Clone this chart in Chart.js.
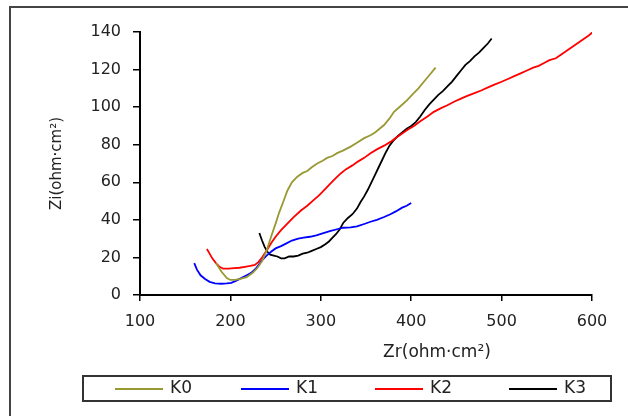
<!DOCTYPE html>
<html>
<head>
<meta charset="utf-8">
<script src="https://cdn.jsdelivr.net/npm/chart.js"></script>
<style>
    body { margin: 0; background: #fff; }
</style>
</head>
<body>
<canvas id="chartImpedansi" width="628" height="416"></canvas>
<script>
// data Nyquist (Zr, Zi) tiap sampel
var k0Zr = [184, 190, 196, 200, 205, 210, 218, 225, 230, 235, 240, 245, 250, 254, 258, 263, 268, 274, 280, 285, 290, 296, 302, 307, 313, 318, 325, 333, 340, 348, 355, 360, 365, 370, 376, 381, 388, 395, 402, 408, 414, 420, 427];
var k0Zi = [17, 12.5, 9, 8, 8, 8.5, 9.5, 12, 14.5, 18, 23.5, 31, 38, 44, 49, 55.5, 60, 63, 65, 66, 68, 70, 71.5, 73, 74, 75.5, 77, 79, 81, 83.5, 85, 86.5, 88.5, 90.5, 94, 97.5, 100.5, 103.5, 107, 110, 113.5, 117, 121];

var k1Zr = [160, 163, 167, 172, 177, 183, 190, 196, 201, 206, 212, 218, 223, 228, 232, 236, 240, 245, 250, 256, 262, 268, 275, 281, 288, 295, 302, 310, 318, 325, 333, 340, 348, 355, 362, 370, 377, 383, 390, 395, 400];
var k1Zi = [17, 13.5, 10.5, 8.5, 7, 6.2, 6, 6.2, 6.5, 7.5, 9, 10.5, 11.8, 14, 16.5, 19, 21, 23, 24.8, 26, 27.5, 29, 30, 30.5, 31, 31.8, 32.8, 34, 35, 35.8, 36, 36.5, 37.8, 39, 40, 41.5, 43, 44.5, 46.5, 47.5, 49];

var k2Zr = [174, 177, 180, 184, 188, 192, 198, 204, 210, 216, 222, 227, 231, 235, 240, 245, 250, 256, 263, 270, 278, 285, 292, 298, 304, 310, 316, 322, 328, 335, 341, 348, 355, 362, 370, 377, 384, 390, 396, 403, 410, 418, 425, 433, 440, 448, 455, 462, 470, 478, 485, 492, 500, 507, 514, 521, 528, 535, 541, 547, 553, 560, 566, 572, 578, 584, 590, 596, 601];
var k2Zi = [24.5, 22, 19.5, 17, 15, 14, 14, 14.3, 14.5, 15, 15.5, 16, 17.5, 20, 23.5, 27.5, 31, 34.5, 38, 41.5, 45, 47.5, 50.5, 53, 56, 59, 62, 64.7, 67, 69, 71, 73, 75.5, 77.5, 79.5, 81.5, 84, 86, 88, 90, 92.5, 95, 97.5, 99.5, 101, 103, 104.5, 106, 107.5, 109, 110.5, 112, 113.5, 115, 116.5, 118, 119.5, 121, 122, 123.5, 125, 126, 128, 130, 132, 134, 136, 138, 140];

var k3Zr = [232, 235, 238, 241, 244, 248, 252, 256, 260, 265, 270, 275, 280, 285, 290, 295, 300, 305, 309, 313, 317, 321, 325, 330, 335, 340, 344, 348, 352, 356, 360, 364, 368, 372, 376, 380, 385, 390, 395, 400, 405, 410, 415, 420, 425, 430, 435, 440, 445, 450, 455, 460, 465, 470, 475, 480, 485, 489];
var k3Zi = [33, 29, 25.5, 23, 21.5, 21, 20.5, 19.5, 19.5, 20.5, 20.5, 21, 22, 22.5, 23.5, 24.5, 25.5, 27, 28.5, 30.5, 32.5, 35, 38.5, 41, 43, 46, 49.5, 52.5, 56, 60, 64, 68, 72, 76, 79.5, 82, 84.5, 86.5, 88.5, 90, 92, 95, 98.5, 101.5, 104, 106.5, 108.5, 111, 113.5, 116.5, 119.5, 122.5, 124.5, 127, 129, 131.5, 134, 136.5];

var labelSampel = ['K0', 'K1', 'K2', 'K3'];
var warnaSampel = ['#999933', '#0000ff', '#ff0000', '#000000'];
var xTicks = [100, 200, 300, 400, 500, 600];
var yTicks = [0, 20, 40, 60, 80, 100, 120, 140];

function gabung(zr, zi) {
    var hasil = [];
    for (var i = 0; i < zr.length; i++) {
        hasil.push({ x: zr[i], y: zi[i] });
    }
    return hasil;
}

var semuaZr = [k0Zr, k1Zr, k2Zr, k3Zr];
var semuaZi = [k0Zi, k1Zi, k2Zi, k3Zi];
var datasets = [];
for (var s = 0; s < labelSampel.length; s++) {
    datasets.push({
        label: labelSampel[s],
        data: gabung(semuaZr[s], semuaZi[s]),
        borderColor: warnaSampel[s],
        backgroundColor: warnaSampel[s],
        borderWidth: 1.8,
        showLine: true,
        pointRadius: 0,
        tension: 0
    });
}

var FONT = "'DejaVu Sans', sans-serif";

// bingkai, judul sumbu x dan legend dengan kotak
var hiasanPlugin = {
    id: 'hiasan',
    beforeDraw: function (chart) {
        var ctx = chart.ctx;
        ctx.save();
        ctx.fillStyle = '#fff';
        ctx.fillRect(0, 0, chart.width, chart.height);
        ctx.strokeStyle = '#444';
        ctx.lineWidth = 2;
        ctx.beginPath();
        ctx.moveTo(10, chart.height);
        ctx.lineTo(10, 7);
        ctx.lineTo(chart.width, 7);
        ctx.stroke();
        ctx.restore();
    },
    afterDraw: function (chart) {
        var ctx = chart.ctx;
        ctx.save();
        ctx.fillStyle = '#222';
        ctx.font = '17px ' + FONT;
        ctx.textAlign = 'center';
        ctx.textBaseline = 'middle';
        ctx.fillText('Zr(ohm\u00b7cm\u00b2)', 437, 353);

        // kotak legend
        ctx.strokeStyle = '#333';
        ctx.lineWidth = 2;
        ctx.strokeRect(83, 376, 528, 25);

        var mulai = [115, 241, 375, 509];
        var ds = chart.data.datasets;
        ctx.textAlign = 'left';
        for (var i = 0; i < ds.length; i++) {
            ctx.strokeStyle = ds[i].borderColor;
            ctx.lineWidth = 2;
            ctx.beginPath();
            ctx.moveTo(mulai[i], 389);
            ctx.lineTo(mulai[i] + 48, 389);
            ctx.stroke();
            ctx.fillStyle = '#222';
            ctx.fillText(ds[i].label, mulai[i] + 55, 389);
        }
        ctx.restore();
    }
};

var ctx = document.getElementById('chartImpedansi').getContext('2d');
var chartZ = new Chart(ctx, {
    type: 'scatter',
    data: { datasets: datasets },
    options: {
        responsive: false,
        animation: false,
        layout: { padding: { left: 0, top: 32, right: 36, bottom: 0 } },
        plugins: {
            legend: { display: false },
            tooltip: { enabled: false }
        },
        scales: {
            x: {
                type: 'linear',
                min: 100,
                max: 600,
                afterFit: function (scale) { scale.height = 121; },
                afterBuildTicks: function (scale) {
                    scale.ticks = xTicks.map(function (v) { return { value: v }; });
                },
                grid: { display: true, drawOnChartArea: false, drawTicks: true, tickLength: 6, color: '#000', lineWidth: 1.5 },
                border: { display: true, color: '#000', width: 2 },
                ticks: { color: '#222', padding: 11, font: { family: FONT, size: 16 } }
            },
            y: {
                type: 'linear',
                min: 0,
                max: 140,
                afterFit: function (scale) { scale.width = 140; },
                afterBuildTicks: function (scale) {
                    scale.ticks = yTicks.map(function (v) { return { value: v }; });
                },
                grid: { display: true, drawOnChartArea: false, drawTicks: true, tickLength: 7, color: '#000', lineWidth: 1.5 },
                border: { display: true, color: '#000', width: 2 },
                ticks: { color: '#222', padding: 12, font: { family: FONT, size: 16 } },
                title: {
                    display: true,
                    text: 'Zi(ohm\u00b7cm\u00b2)',
                    color: '#222',
                    font: { family: FONT, size: 15 },
                    padding: { top: 48, bottom: 0 }
                }
            }
        }
    },
    plugins: [hiasanPlugin]
});
</script>
</body>
</html>
